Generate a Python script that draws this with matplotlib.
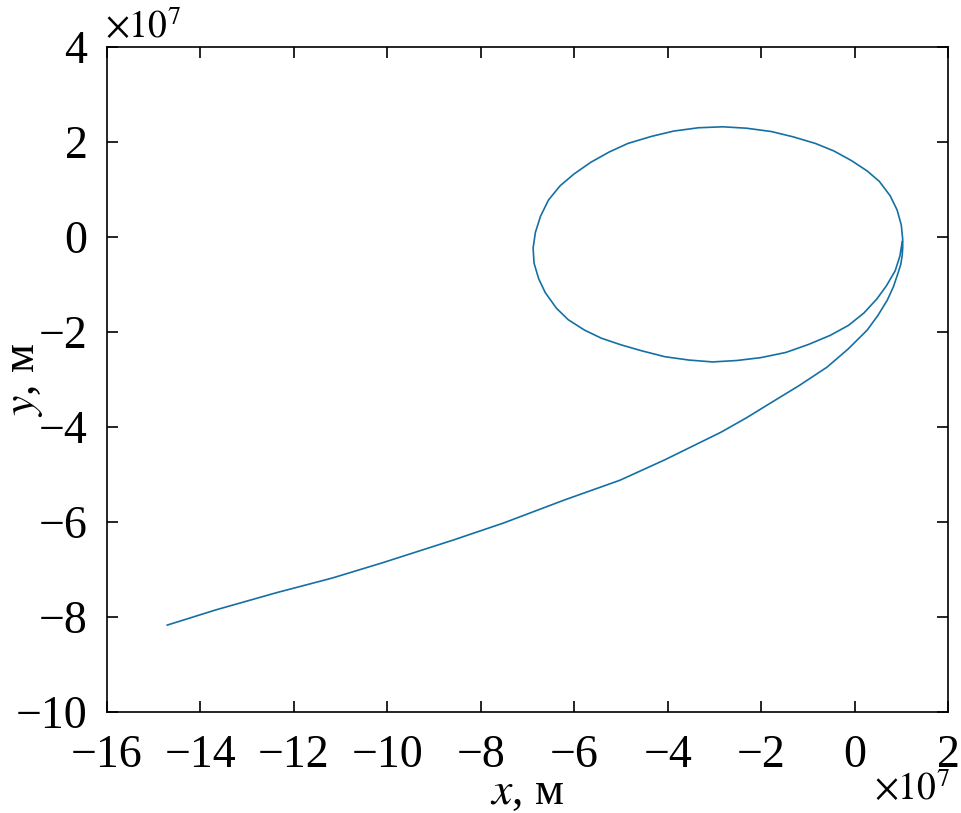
import matplotlib
matplotlib.use("Agg")
import matplotlib.pyplot as plt

plt.rcParams["font.family"] = ["Liberation Serif", "DejaVu Serif"]
plt.rcParams["mathtext.fontset"] = "stix"

# trajectory, units of 1e7 m
# loop first (starting at its right edge, going down and round),
# then the escape branch down to the lower left
x_loop = [1.02, 0.97, 0.87, 0.68, 0.48, 0.20, -0.13, -0.52, -0.98, -1.47,
          -2.01, -2.52, -3.04, -3.55, -4.06, -4.54, -5.00, -5.42, -5.78, -6.13,
          -6.38, -6.62, -6.76, -6.86, -6.88, -6.83, -6.72, -6.55, -6.30, -6.00,
          -5.65, -5.25, -4.85, -4.34, -3.87, -3.34, -2.82, -2.31, -1.78, -1.32,
          -0.84, -0.44, -0.07, 0.27, 0.53, 0.76, 0.91, 1.00, 1.03]
y_loop = [-0.10, -0.40, -0.71, -1.03, -1.30, -1.60, -1.86, -2.07, -2.26, -2.43,
          -2.54, -2.60, -2.63, -2.59, -2.52, -2.40, -2.27, -2.13, -1.96, -1.74,
          -1.50, -1.17, -0.88, -0.55, -0.23, 0.10, 0.44, 0.78, 1.08, 1.33,
          1.57, 1.79, 1.97, 2.12, 2.23, 2.30, 2.32, 2.29, 2.22, 2.11,
          1.97, 1.81, 1.61, 1.39, 1.17, 0.87, 0.57, 0.25, -0.05]
x_tail = [1.03, 1.02, 0.99, 0.93, 0.83, 0.70, 0.50, 0.27, -0.14, -0.59,
          -1.19, -1.79, -2.32, -2.86, -4.06, -5.02, -6.22, -7.51, -8.59, -10.11,
          -11.18, -12.38, -13.67, -14.71]
y_tail = [-0.22, -0.38, -0.57, -0.76, -1.05, -1.33, -1.65, -1.96, -2.36, -2.74,
          -3.13, -3.49, -3.81, -4.11, -4.69, -5.12, -5.54, -6.02, -6.38, -6.86,
          -7.18, -7.49, -7.85, -8.17]

x_ticks = list(range(-16, 3, 2))
y_ticks = list(range(-10, 5, 2))

fig = plt.figure(figsize=(9.61, 8.13), dpi=100)
ax = fig.add_axes([0.1113, 0.1242, 0.8752, 0.818])
ax.plot(x_loop + x_tail, y_loop + y_tail, color="#1470a4", lw=1.2)

ax.set_xlim(-16, 2)
ax.set_ylim(-10, 4)
ax.set_xticks(x_ticks)
ax.set_yticks(y_ticks)
ax.set_xticklabels([f"{v}".replace("-", "\u2212") for v in x_ticks])
ax.set_yticklabels([f"{v}".replace("-", "\u2212") for v in y_ticks])
ax.tick_params(direction="in", length=8, width=1.2, labelsize=33,
               top=True, right=True)
ax.tick_params(axis="x", pad=16)
ax.tick_params(axis="y", pad=14)
for s in ax.spines.values():
    s.set_linewidth(1.2)

ax.set_xlabel(r"$\mathit{x}$, м", fontsize=33, labelpad=-4)
fig.text(24 / 961, 0.533, r"$\mathit{y}$, м", fontsize=33, rotation=90,
         ha="center", va="center")

fig.text(0.109, 0.943, r"$\times 10^{7}$", fontsize=27, ha="left", va="bottom")
fig.text(0.909, 0.006, r"$\times 10^{7}$", fontsize=27, ha="left", va="bottom")

fig.savefig("out.png", dpi=100)
